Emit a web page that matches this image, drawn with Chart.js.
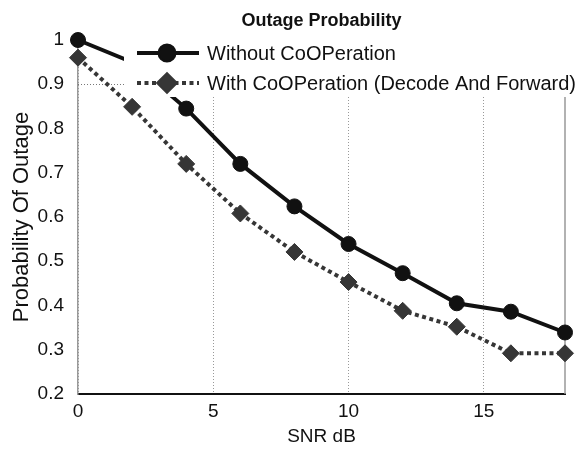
<!DOCTYPE html>
<html>
<head>
<meta charset="utf-8">
<script src="https://cdn.jsdelivr.net/npm/chart.js@4/dist/chart.umd.min.js"></script>
<style>
html, body { margin: 0; padding: 0; background: #fff; }
#wrap { width: 583px; height: 450px; }
</style>
</head>
<body>
<div id="wrap"><canvas id="grafico"></canvas></div>
<script>
var snr = [0, 2, 4, 6, 8, 10, 12, 14, 16, 18];
var semCooperacao = [1.0, 0.95, 0.845, 0.72, 0.624, 0.539, 0.473, 0.405, 0.386, 0.339];
var comCooperacao = [0.96, 0.849, 0.72, 0.608, 0.521, 0.453, 0.388, 0.352, 0.292, 0.292];
var ticksX = [0, 5, 10, 15];
var ticksY = [0.2, 0.3, 0.4, 0.5, 0.6, 0.7, 0.8, 0.9, 1];
var nomes = ['Without CoOPeration', 'With CoOPeration (Decode And Forward)'];
var titulo = 'Outage Probability';
var tituloX = 'SNR dB';
var tituloY = 'Probability Of Outage';

var fonte = "'Liberation Sans', Arial, sans-serif";
var corSem = '#111111';
var corCom = '#363636';

function pontos(ys) {
    return snr.map(function (x, i) { return { x: x, y: ys[i] }; });
}

// titulo e legenda desenhados a mao (estilo matlab)
var extras = {
    id: 'extras',
    beforeDatasetsDraw: function (chart) {
        var ctx = chart.ctx, a = chart.chartArea;
        var y09 = chart.scales.y.getPixelForValue(0.9);
        ctx.save();
        ctx.strokeStyle = '#999';
        ctx.lineWidth = 1.5;
        ctx.beginPath();
        ctx.moveTo(a.right, a.top);
        ctx.lineTo(a.right, a.bottom);
        ctx.stroke();
        // pedaco de grade no 0.9 que aparece antes da legenda
        ctx.strokeStyle = '#777';
        ctx.lineWidth = 1;
        ctx.setLineDash([1, 2]);
        ctx.beginPath();
        ctx.moveTo(a.left, Math.round(y09) + 0.5);
        ctx.lineTo(a.right, Math.round(y09) + 0.5);
        ctx.stroke();
        ctx.restore();
    },
    afterDatasetsDraw: function (chart) {
        var ctx = chart.ctx, a = chart.chartArea;
        ctx.save();
        ctx.fillStyle = '#fff';
        ctx.fillRect(124, 38, 457, 59);

        var linhas = [
            { y: 53, cor: corSem, dash: [], estilo: 'circle', r: 7.5 },
            { y: 83, cor: corCom, dash: [4, 3.5], estilo: 'rectRot', r: 8.5 }
        ];
        linhas.forEach(function (l, i) {
            ctx.strokeStyle = l.cor;
            ctx.lineWidth = 4;
            ctx.setLineDash(l.dash);
            ctx.beginPath();
            ctx.moveTo(137, l.y);
            ctx.lineTo(199, l.y);
            ctx.stroke();
            ctx.setLineDash([]);
            ctx.fillStyle = l.cor;
            Chart.helpers.drawPoint(ctx, { pointStyle: l.estilo, radius: l.r, borderWidth: 1 }, 167, l.y);
            ctx.fill();
            ctx.fillStyle = '#111';
            ctx.font = '20px ' + fonte;
            ctx.textAlign = 'left';
            ctx.textBaseline = 'middle';
            ctx.fillText(nomes[i], 207, l.y + 1);
        });

        ctx.fillStyle = '#111';
        ctx.font = 'bold 18px ' + fonte;
        ctx.textAlign = 'center';
        ctx.textBaseline = 'middle';
        ctx.fillText(titulo, (a.left + a.right) / 2, 21);
        ctx.restore();
    }
};

const dados = {
    datasets: [{
        label: nomes[0],
        data: pontos(semCooperacao),
        borderColor: corSem,
        backgroundColor: corSem,
        borderWidth: 4,
        pointStyle: 'circle',
        pointRadius: 7.5,
        pointBorderWidth: 1,
        clip: false
    }, {
        label: nomes[1],
        data: pontos(comCooperacao),
        borderColor: corCom,
        backgroundColor: corCom,
        borderWidth: 4,
        borderDash: [4, 3.5],
        borderCapStyle: 'butt',
        pointStyle: 'rectRot',
        pointRadius: 8.5,
        pointBorderWidth: 1,
        clip: false
    }]
};

const config = {
    type: 'line',
    data: dados,
    options: {
        responsive: true,
        maintainAspectRatio: false,
        animation: false,
        layout: { padding: { top: 40, right: 18, left: 0, bottom: 0 } },
        plugins: { legend: { display: false }, title: { display: false }, tooltip: { enabled: false } },
        scales: {
            x: {
                type: 'linear',
                min: 0,
                max: 18,
                afterBuildTicks: function (s) { s.ticks = ticksX.map(function (v) { return { value: v }; }); },
                afterFit: function (s) { s.height = 56; },
                grid: { color: '#999', lineWidth: 1, drawTicks: false },
                border: { color: '#111', width: 2, dash: [1, 2] },
                ticks: { color: '#111', padding: 6, font: { family: fonte, size: 19 } },
                title: { display: true, text: tituloX, color: '#111', padding: { top: 0, bottom: 2 }, font: { family: fonte, size: 19 } }
            },
            y: {
                min: 0.2,
                max: 1,
                afterBuildTicks: function (s) { s.ticks = ticksY.map(function (v) { return { value: v }; }); },
                afterFit: function (s) { s.width = 78; },
                grid: { display: false },
                border: { color: '#999', width: 1.5 },
                ticks: {
                    color: '#111', padding: 6, font: { family: fonte, size: 19 },
                    callback: function (v) { return v === 1 ? '1' : v.toFixed(1); }
                },
                title: { display: true, text: tituloY, color: '#111', padding: { top: 9, bottom: 0 }, font: { family: fonte, size: 22 } }
            }
        }
    },
    plugins: [extras]
};

const grafico = new Chart(document.getElementById('grafico'), config);
</script>
</body>
</html>
